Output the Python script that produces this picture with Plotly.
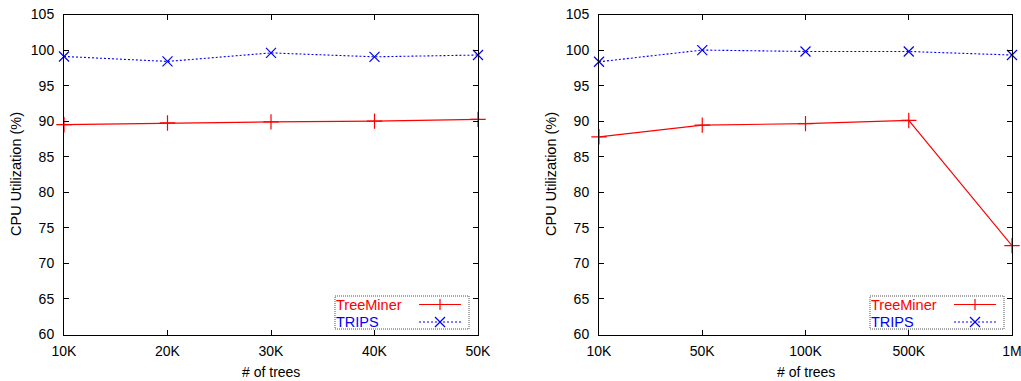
import plotly.graph_objects as go

W, H = 1021, 381

# ---- data ----
left_categories = ["10K", "20K", "30K", "40K", "50K"]
left_treeminer = [89.5, 89.75, 89.9, 90.0, 90.25]
left_trips = [99.1, 98.4, 99.6, 99.05, 99.3]

right_categories = ["10K", "50K", "100K", "500K", "1M"]
right_treeminer = [87.8, 89.45, 89.65, 90.1, 72.5]
right_trips = [98.35, 100.0, 99.8, 99.8, 99.3]

y_ticks = [60, 65, 70, 75, 80, 85, 90, 95, 100, 105]
series_names = ["TreeMiner", "TRIPS"]
x_title = "# of trees"
y_title = "CPU Utilization (%)"

RED = "#ff0000"
BLUE = "#0000ff"
FONT = "Liberation Sans, Arial, Helvetica, sans-serif"


def fx(p):
    return p / W


def fy(p):
    return 1 - p / H


fig = go.Figure()

panels = [
    ("x", "y", left_categories, left_treeminer, left_trips),
    ("x2", "y2", right_categories, right_treeminer, right_trips),
]
for xa, ya, cats, tm, tr in panels:
    fig.add_trace(go.Scatter(
        x=cats, y=tm, xaxis=xa, yaxis=ya, name=series_names[0],
        mode="lines+markers", cliponaxis=False, showlegend=False,
        line=dict(color=RED, width=1.2),
        marker=dict(symbol="cross-thin", size=11, line=dict(color=RED, width=1.2)),
    ))
    fig.add_trace(go.Scatter(
        x=cats, y=tr, xaxis=xa, yaxis=ya, name=series_names[1],
        mode="lines+markers", cliponaxis=False, showlegend=False,
        line=dict(color=BLUE, width=1.1, dash="2px,2px"),
        marker=dict(symbol="x-thin", size=10, line=dict(color=BLUE, width=1.2)),
    ))

axis_common = dict(
    showline=True, linecolor="black", linewidth=1, mirror="ticks",
    ticks="inside", ticklen=5, tickcolor="black", showgrid=False, zeroline=False,
    automargin=False,
    tickfont=dict(family=FONT, size=14, color="black"),
)

fig.update_layout(
    width=W, height=H,
    margin=dict(l=0, r=0, t=0, b=0),
    paper_bgcolor="white", plot_bgcolor="white",
    font=dict(family=FONT, size=14, color="black"),
    xaxis=dict(domain=[fx(64), fx(478)], anchor="y", type="category",
               range=[0, 4], ticklabelstandoff=4, **axis_common),
    yaxis=dict(domain=[fy(334.5), fy(14.5)], anchor="x", range=[60, 105],
               tickvals=y_ticks, ticklabelstandoff=6, **axis_common),
    xaxis2=dict(domain=[fx(599), fx(1012)], anchor="y2", type="category",
                range=[0, 4], ticklabelstandoff=4, **axis_common),
    yaxis2=dict(domain=[fy(334.5), fy(14.5)], anchor="x2", range=[60, 105],
                tickvals=y_ticks, ticklabelstandoff=6, **axis_common),
)

# ---- axis titles and custom legends (text left, sample right, as in gnuplot) ----
shapes = []
annotations = []
for off, (xl, xr) in zip((0, 535), ((64, 478), (599, 1012))):
    annotations.append(dict(xref="paper", yref="paper", x=fx((xl + xr) / 2), y=fy(372),
                            xanchor="center", yanchor="middle", text=x_title, showarrow=False,
                            font=dict(family=FONT, size=14, color="black")))
    annotations.append(dict(xref="paper", yref="paper", x=fx(xl - 48), y=fy(174),
                            xanchor="center", yanchor="middle", text=y_title, showarrow=False,
                            textangle=-90, font=dict(family=FONT, size=14.5, color="black")))
    x0, x1, y0, y1 = 335 + off, 469 + off, 296, 329
    shapes.append(dict(type="rect", xref="paper", yref="paper",
                       x0=fx(x0), x1=fx(x1), y0=fy(y1), y1=fy(y0),
                       line=dict(color="#555555", width=1, dash="1px,1px"),
                       fillcolor="white", layer="above"))
    rows = [(304.5, series_names[0], RED, "solid"), (322, series_names[1], BLUE, "2px,2px")]
    for yy, name, col, dash in rows:
        annotations.append(dict(xref="paper", yref="paper", x=fx(x0 - 1), y=fy(yy),
                                xanchor="left", yanchor="middle", text=name, showarrow=False,
                                font=dict(family=FONT, size=14.5, color=col)))
        shapes.append(dict(type="line", xref="paper", yref="paper",
                           x0=fx(419 + off), x1=fx(461 + off), y0=fy(yy), y1=fy(yy),
                           line=dict(color=col, width=1.2, dash=dash), layer="above"))
        cx = 440 + off
        if name == series_names[0]:
            shapes.append(dict(type="line", xref="paper", yref="paper",
                               x0=fx(cx), x1=fx(cx), y0=fy(yy - 5.5), y1=fy(yy + 5.5),
                               line=dict(color=col, width=1.2), layer="above"))
        else:
            for s in (1, -1):
                shapes.append(dict(type="line", xref="paper", yref="paper",
                                   x0=fx(cx - 5), x1=fx(cx + 5), y0=fy(yy - 5 * s), y1=fy(yy + 5 * s),
                                   line=dict(color=col, width=1.2), layer="above"))

fig.update_layout(shapes=shapes, annotations=annotations)

fig.write_html(
    "out.html",
    config={"displayModeBar": False},
    post_script="document.body.style.margin='0';document.body.style.overflow='hidden';",
)
